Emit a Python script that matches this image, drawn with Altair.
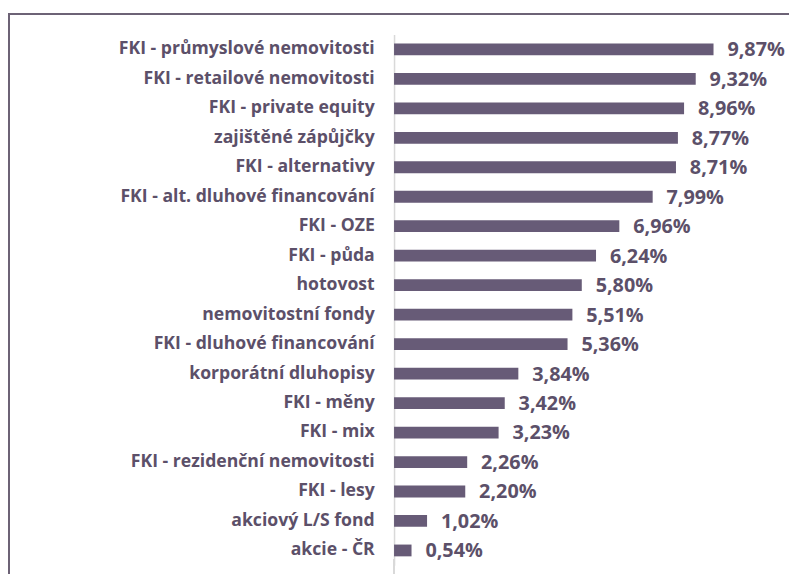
import altair as alt
import pandas as pd

categories = [
    "FKI - průmyslové nemovitosti",
    "FKI - retailové nemovitosti",
    "FKI - private equity",
    "zajištěné zápůjčky",
    "FKI - alternativy",
    "FKI - alt. dluhové financování",
    "FKI - OZE",
    "FKI - půda",
    "hotovost",
    "nemovitostní fondy",
    "FKI - dluhové financování",
    "korporátní dluhopisy",
    "FKI - měny",
    "FKI - mix",
    "FKI - rezidenční nemovitosti",
    "FKI - lesy",
    "akciový L/S fond",
    "akcie - ČR",
]
values = [9.87, 9.32, 8.96, 8.77, 8.71, 7.99, 6.96, 6.24, 5.80, 5.51, 5.36,
          3.84, 3.42, 3.23, 2.26, 2.20, 1.02, 0.54]

df = pd.DataFrame({"cat": categories, "val": values})

BAR = "#675b77"
TXT = "#5c5069"
FONT = "Open Sans"

base = alt.Chart(df).encode(
    y=alt.Y("cat:N", sort=categories,
            scale=alt.Scale(paddingInner=0.6, paddingOuter=0.3),
            axis=alt.Axis(title=None, ticks=False, domain=True, domainColor="#d9d9d9",
                          domainWidth=1.5, labelPadding=20, labelFontSize=17.8,
                          labelFont=FONT, labelFontWeight="bold", labelColor=TXT,
                          grid=False, labelLimit=400)),
    x=alt.X("val:Q", scale=alt.Scale(domain=[0, 10], nice=False),
            axis=None),
)

bars = base.mark_bar(color=BAR, clip=False)

labels = base.mark_text(align="left", baseline="middle", dx=14, dy=1, fontSize=20,
                        font=FONT, fontWeight="bold", color=TXT).transform_calculate(
    lbl="replace(format(datum.val, '.2f'), '.', ',') + '%'"
).encode(text="lbl:N")

frame_top = alt.Chart(df).mark_rule(color="#6d6376", strokeWidth=1.5).encode(
    x=alt.value(-389), x2=alt.value(400), y=alt.value(-21))
frame_left = alt.Chart(df).mark_rule(color="#6d6376", strokeWidth=1.5).encode(
    x=alt.value(-389), y=alt.value(-21), y2=alt.value(560))
axis_ext = alt.Chart(df).mark_rule(color="#d9d9d9", strokeWidth=1.5).encode(
    x=alt.value(0), y=alt.value(530), y2=alt.value(560))

chart = alt.layer(frame_top, frame_left, axis_ext, bars, labels).properties(
    width=327, height=536,
    background="white",
    autosize=alt.AutoSizeParams(type="none"),
    padding={"left": 390, "top": 24, "right": 72, "bottom": 6},
).configure_view(stroke=None)

chart.save("out.html", embed_options={"renderer": "svg", "actions": False})
